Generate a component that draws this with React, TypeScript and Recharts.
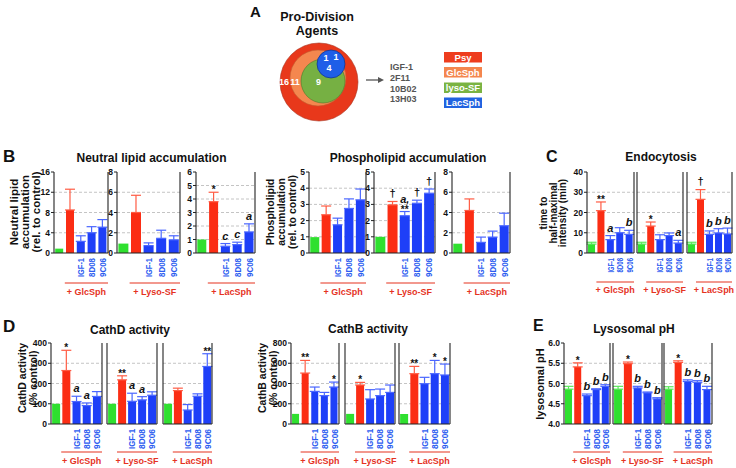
import React from "react";
import { BarChart, Bar, XAxis, YAxis, ErrorBar, LabelList, CartesianGrid } from "recharts";

const FONT = '"Liberation Sans", Arial, Helvetica, sans-serif';
const GREEN = "#2fe02f";
const RED = "#fb2d14";
const BLUE = "#1e3ff8";
const RED_ERR = "#ff5c44";
const BLUE_ERR = "#4a66ff";
const GREEN_ERR = "#5ae85a";
const XBLUE = "#2c5cf0";
const GROUP_RED = "#e5331f";
const AXIS = "#222";

// ---------- categories ----------
const conditions = ["control", "vehicle", "IGF-1", "8D08", "9C06"];
const xTickLabels = ["", "", "IGF-1", "8D08", "9C06"];
const treatments = ["+ GlcSph", "+ Lyso-SF", "+ LacSph"];

// ---------- Panel A ----------
const vennCounts = ["16", "11", "9", "1", "1", "4"];
const agentList = ["IGF-1", "2F11", "10B02", "13H03"];
const legendLabels = ["Psy", "GlcSph", "lyso-SF", "LacSph"];

// ---------- B: neutral lipid accumulation ----------
const neutralGlc = [0.86, 8.5, 2.3, 4.0, 5.1];
const neutralGlcErr = [0.86, 12.6, 3.4, 5.2, 6.6];
const neutralGlcSig = ["", "", "", "", ""];
const neutralLyso = [0.93, 4.0, 0.73, 1.45, 1.3];
const neutralLysoErr = [0.93, 5.7, 1.0, 2.25, 1.7];
const neutralLysoSig = ["", "", "", "", ""];
const neutralLac = [1.0, 3.8, 0.5, 0.62, 1.56];
const neutralLacErr = [1.0, 4.5, 0.7, 0.8, 2.16];
const neutralLacSig = ["", "*", "c", "c", "a"];
const neutralGlcTicks = [0, 4, 8, 12, 16];
const neutralLysoTicks = [0, 2, 4, 6, 8];
const neutralLacTicks = [0, 1, 2, 3, 4, 5, 6];

// ---------- B: phospholipid accumulation ----------
const phosGlc = [0.98, 2.36, 1.74, 2.75, 3.28];
const phosGlcErr = [0.98, 2.9, 2.15, 3.34, 3.95];
const phosGlcSig = ["", "", "", "", ""];
const phosLyso = [1.0, 2.97, 2.3, 3.07, 3.69];
const phosLysoErr = [1.0, 3.18, 2.56, 3.26, 3.95];
const phosLysoSig = ["", "†", "a,|**", "†", "†"];
const phosLac = [0.92, 4.2, 1.05, 1.57, 2.69];
const phosLacErr = [0.92, 5.34, 1.57, 2.16, 3.93];
const phosLacSig = ["", "", "", "", ""];
const phosTicks = [0, 1, 2, 3, 4, 5];
const phosLacTicks = [0, 2, 4, 6, 8];

// ---------- C: endocytosis ----------
const endoGlc = [4.4, 20.9, 6.6, 10.0, 9.2];
const endoGlcErr = [5.3, 25.2, 8.6, 12.5, 11.2];
const endoGlcSig = ["", "**", "a", "", "b"];
const endoLyso = [4.4, 13.3, 6.6, 8.6, 4.9];
const endoLysoErr = [5.3, 15.3, 9.0, 9.9, 6.25];
const endoLysoSig = ["", "*", "", "", "a"];
const endoLac = [4.4, 26.5, 9.2, 9.9, 9.4];
const endoLacErr = [5.3, 31.3, 10.9, 12.0, 12.3];
const endoLacSig = ["", "†", "b", "b", "b"];
const endoTicks = [0, 10, 20, 30, 40];

// ---------- D: CathD activity ----------
const cathDGlc = [100, 264, 111, 91, 136];
const cathDGlcErr = [100, 364, 137, 104, 160];
const cathDGlcSig = ["", "*", "a", "a", ""];
const cathDLyso = [100, 218, 112, 119, 142];
const cathDLysoErr = [100, 238, 152, 135, 159];
const cathDLysoSig = ["", "**", "a", "a", ""];
const cathDLac = [100, 165, 69, 137, 284];
const cathDLacErr = [100, 177, 96, 149, 347];
const cathDLacSig = ["", "", "", "", "**"];
const cathDTicks = [0, 100, 200, 300, 400];

// ---------- D: CathB activity ----------
const cathBGlc = [100, 503, 322, 280, 365];
const cathBGlcErr = [100, 628, 365, 312, 414];
const cathBGlcSig = ["", "**", "", "", "*"];
const cathBLyso = [100, 385, 247, 280, 312];
const cathBLysoErr = [100, 411, 339, 345, 385];
const cathBLysoSig = ["", "*", "", "", ""];
const cathBLac = [100, 497, 398, 497, 484];
const cathBLacErr = [100, 569, 461, 628, 592];
const cathBLacSig = ["", "**", "", "*", "*"];
const cathBTicks = [0, 200, 400, 600, 800];

// ---------- E: lysosomal pH ----------
const phGlc = [4.86, 5.41, 4.7, 4.85, 4.93];
const phGlcErr = [4.93, 5.51, 4.74, 4.87, 4.97];
const phLyso = [4.86, 5.49, 4.89, 4.77, 4.62];
const phLysoErr = [4.93, 5.53, 4.93, 4.79, 4.65];
const phLac = [4.86, 5.52, 5.05, 5.03, 4.85];
const phLacErr = [4.92, 5.56, 5.09, 5.07, 4.93];
const phSig = ["", "*", "b", "b", "b"];
const phTicks = [4, 4.5, 5, 5.5, 6];

type LabelStyle = { labelSize: number; labelLen: number; lineOff: number; textOff: number };
const styleTop: LabelStyle = { labelSize: 9.5, labelLen: 19, lineOff: 30, textOff: 41.5 };
const styleC: LabelStyle = { labelSize: 9, labelLen: 14.5, lineOff: 29, textOff: 40 };
const styleBot: LabelStyle = { labelSize: 9.5, labelLen: 20, lineOff: 28, textOff: 39.5 };

type Sub = {
  vals: number[];
  err: number[];
  sig: string[];
  ticks: number[];
  showTicks: boolean;
  left: number;
  right: number;
  top: number;
  bottom: number;
  group: string;
  st: LabelStyle;
  fmt?: (v: number) => string;
};

const AnnLabel = (p: any) => {
  const { x, y, width, value } = p;
  if (!value || x == null || y == null) return null;
  const lines = String(value).split("|");
  const cx = Number(x) + Number(width) / 2;
  const out: any[] = [];
  let base = Number(y);
  for (let i = lines.length - 1; i >= 0; i--) {
    const ln = lines[i];
    const isStar = ln.indexOf("*") >= 0;
    const isDagger = ln.indexOf("†") >= 0;
    const by = isStar ? base + 1 : isDagger ? base - 4.5 : base - 4;
    out.push(
      <text
        key={i}
        x={cx}
        y={by}
        textAnchor="middle"
        fontFamily={FONT}
        fontWeight={700}
        fontStyle={isStar || isDagger ? "normal" : "italic"}
        fontSize={isStar ? 10 : 11}
        fill="#111"
      >
        {ln}
      </text>
    );
    base = by - (isStar ? 6 : 9);
  }
  return <g>{out}</g>;
};

const makeXTick = (st: LabelStyle) => (p: any) => {
  const { x, y, payload } = p;
  const idx = conditions.indexOf(payload && payload.value);
  const label = xTickLabels[idx];
  if (!label) return <g />;
  return (
    <text
      transform={`translate(${x + st.labelSize * 0.36},${y + 3}) rotate(-90)`}
      textAnchor="end"
      fontFamily={FONT}
      fontWeight={700}
      fontSize={st.labelSize}
      fill={XBLUE}
      textLength={st.labelLen}
      lengthAdjust="spacingAndGlyphs"
    >
      {label}
    </text>
  );
};

const makeGroupLabel = (st: LabelStyle, text: string) => (p: any) => {
  const vb = p.viewBox || {};
  const band = vb.width / conditions.length;
  const x1 = vb.x + band;
  const x2 = vb.x + vb.width;
  const ly = vb.y + st.lineOff;
  return (
    <g>
      <line x1={x1} x2={x2} y1={ly} y2={ly} stroke={GROUP_RED} strokeWidth={1.1} />
      <text
        x={(x1 + x2) / 2}
        y={vb.y + st.textOff}
        textAnchor="middle"
        fontFamily={FONT}
        fontWeight={700}
        fontSize={9}
        fill={GROUP_RED}
      >
        {text}
      </text>
    </g>
  );
};

// map a data value to a pixel row using the axis scale handed to the grid
function axisPixel(props: any, v: number, domain: [number, number]): number {
  const ax = props && props.yAxis;
  const sc = ax && ax.scale;
  if (typeof sc === "function") return sc(v);
  if (sc && typeof sc.map === "function") {
    const r = sc.map(v);
    if (typeof r === "number") return r;
  }
  if (sc && typeof sc.scale === "function") return sc.scale(v);
  const off = props.offset || {};
  return off.top + off.height * (1 - (v - domain[0]) / (domain[1] - domain[0]));
}

function SubChart({ s }: { s: Sub }) {
  const yW = 28;
  const mTop = 10;
  const xH = 50;
  const rW = 6;
  const plotW = s.right - s.left;
  const plotH = s.bottom - s.top;
  const W = yW + plotW + rW;
  const H = mTop + plotH + xH;
  const domain: [number, number] = [s.ticks[0], s.ticks[s.ticks.length - 1]];
  const inner = s.ticks.slice(1, -1);
  const data = conditions.map((c, i) => {
    const v = s.vals[i];
    const e = s.err[i] - v;
    const eb = e > 0 ? [0, e] : null;
    return {
      k: c,
      g: i === 0 ? v : null,
      gE: i === 0 ? eb : null,
      r: i === 1 ? v : null,
      rE: i === 1 ? eb : null,
      b: i >= 2 ? v : null,
      bE: i >= 2 ? eb : null,
      t: s.sig[i] ? Math.max(s.err[i], v) : null,
      ann: s.sig[i],
    };
  });
  const tickStyle = { fontSize: 8.5, fontWeight: 700, fill: "#111", fontFamily: FONT };
  return (
    <div style={{ position: "absolute", left: s.left - yW, top: s.top - mTop }}>
      <BarChart
        width={W}
        height={H}
        data={data}
        margin={{ top: mTop, right: 0, bottom: 0, left: 0 }}
        barCategoryGap="11%"
      >
        <XAxis
          xAxisId="b"
          dataKey="k"
          height={xH}
          interval={0}
          tickLine={false}
          tickSize={0}
          axisLine={{ stroke: AXIS, strokeWidth: 1.1 }}
          tick={makeXTick(s.st)}
          label={makeGroupLabel(s.st, s.group)}
        />
        <XAxis xAxisId="g" dataKey="k" hide />
        <XAxis xAxisId="r" dataKey="k" hide />
        <XAxis xAxisId="t" dataKey="k" hide />
        <YAxis
          yAxisId="L"
          type="number"
          width={yW}
          domain={domain}
          ticks={s.ticks}
          interval={0}
          tickSize={3}
          tickMargin={1}
          axisLine={{ stroke: AXIS, strokeWidth: 1.1 }}
          tickLine={{ stroke: AXIS }}
          tick={s.showTicks ? tickStyle : false}
          tickFormatter={s.fmt}
        />
        <YAxis
          yAxisId="R"
          orientation="right"
          type="number"
          width={rW}
          domain={domain}
          ticks={s.ticks}
          interval={0}
          tickSize={3}
          axisLine={{ stroke: AXIS, strokeWidth: 1.1 }}
          tickLine={{ stroke: AXIS }}
          tick={false}
        />
        <CartesianGrid
          xAxisId="b"
          yAxisId="L"
          vertical={false}
          stroke="#b5b5b5"
          strokeDasharray="3 2"
          strokeWidth={0.8}
          horizontalCoordinatesGenerator={(props: any) =>
            inner.map((v) => axisPixel(props, v, domain))
          }
        />
        <Bar xAxisId="g" yAxisId="L" dataKey="g" fill={GREEN} isAnimationActive={false}>
          <ErrorBar dataKey="gE" direction="y" width={5} stroke={GREEN_ERR} strokeWidth={1.2} />
        </Bar>
        <Bar xAxisId="r" yAxisId="L" dataKey="r" fill={RED} isAnimationActive={false}>
          <ErrorBar dataKey="rE" direction="y" width={5} stroke={RED_ERR} strokeWidth={1.2} />
        </Bar>
        <Bar xAxisId="b" yAxisId="L" dataKey="b" fill={BLUE} isAnimationActive={false}>
          <ErrorBar dataKey="bE" direction="y" width={5} stroke={BLUE_ERR} strokeWidth={1.2} />
        </Bar>
        <Bar xAxisId="t" yAxisId="L" dataKey="t" fill="none" isAnimationActive={false}>
          <LabelList dataKey="ann" content={AnnLabel} />
        </Bar>
      </BarChart>
    </div>
  );
}

const fmt1 = (v: number) => v.toFixed(1);

const R1T = 172;
const R1B = 253;
const R2T = 343;
const R2B = 424;

const subs: Sub[] = [
  // Neutral lipid
  { vals: neutralGlc, err: neutralGlcErr, sig: neutralGlcSig, ticks: neutralGlcTicks, showTicks: true, left: 54, right: 108, top: R1T, bottom: R1B, group: treatments[0], st: styleTop },
  { vals: neutralLyso, err: neutralLysoErr, sig: neutralLysoSig, ticks: neutralLysoTicks, showTicks: true, left: 117, right: 180, top: R1T, bottom: R1B, group: treatments[1], st: styleTop },
  { vals: neutralLac, err: neutralLacErr, sig: neutralLacSig, ticks: neutralLacTicks, showTicks: true, left: 196, right: 255, top: R1T, bottom: R1B, group: treatments[2], st: styleTop },
  // Phospholipid
  { vals: phosGlc, err: phosGlcErr, sig: phosGlcSig, ticks: phosTicks, showTicks: true, left: 309, right: 366, top: R1T, bottom: R1B, group: treatments[0], st: styleTop },
  { vals: phosLyso, err: phosLysoErr, sig: phosLysoSig, ticks: phosTicks, showTicks: true, left: 374, right: 435, top: R1T, bottom: R1B, group: treatments[1], st: styleTop },
  { vals: phosLac, err: phosLacErr, sig: phosLacSig, ticks: phosLacTicks, showTicks: true, left: 452, right: 510, top: R1T, bottom: R1B, group: treatments[2], st: styleTop },
  // Endocytosis
  { vals: endoGlc, err: endoGlcErr, sig: endoGlcSig, ticks: endoTicks, showTicks: true, left: 587, right: 634, top: R1T, bottom: R1B, group: treatments[0], st: styleC },
  { vals: endoLyso, err: endoLysoErr, sig: endoLysoSig, ticks: endoTicks, showTicks: false, left: 637, right: 683, top: R1T, bottom: R1B, group: treatments[1], st: styleC },
  { vals: endoLac, err: endoLacErr, sig: endoLacSig, ticks: endoTicks, showTicks: false, left: 687, right: 732, top: R1T, bottom: R1B, group: treatments[2], st: styleC },
  // CathD
  { vals: cathDGlc, err: cathDGlcErr, sig: cathDGlcSig, ticks: cathDTicks, showTicks: true, left: 51, right: 102, top: R2T, bottom: R2B, group: treatments[0], st: styleBot },
  { vals: cathDLyso, err: cathDLysoErr, sig: cathDLysoSig, ticks: cathDTicks, showTicks: false, left: 107, right: 157, top: R2T, bottom: R2B, group: treatments[1], st: styleBot },
  { vals: cathDLac, err: cathDLacErr, sig: cathDLacSig, ticks: cathDTicks, showTicks: false, left: 163, right: 212, top: R2T, bottom: R2B, group: treatments[2], st: styleBot },
  // CathB
  { vals: cathBGlc, err: cathBGlcErr, sig: cathBGlcSig, ticks: cathBTicks, showTicks: true, left: 291, right: 339, top: R2T, bottom: R2B, group: treatments[0], st: styleBot },
  { vals: cathBLyso, err: cathBLysoErr, sig: cathBLysoSig, ticks: cathBTicks, showTicks: false, left: 345, right: 395, top: R2T, bottom: R2B, group: treatments[1], st: styleBot },
  { vals: cathBLac, err: cathBLacErr, sig: cathBLacSig, ticks: cathBTicks, showTicks: false, left: 399, right: 450, top: R2T, bottom: R2B, group: treatments[2], st: styleBot },
  // pH
  { vals: phGlc, err: phGlcErr, sig: phSig, ticks: phTicks, showTicks: true, left: 564, right: 610, top: R2T, bottom: R2B, group: treatments[0], st: styleBot, fmt: fmt1 },
  { vals: phLyso, err: phLysoErr, sig: phSig, ticks: phTicks, showTicks: false, left: 613, right: 662, top: R2T, bottom: R2B, group: treatments[1], st: styleBot, fmt: fmt1 },
  { vals: phLac, err: phLacErr, sig: phSig, ticks: phTicks, showTicks: false, left: 664, right: 712, top: R2T, bottom: R2B, group: treatments[2], st: styleBot, fmt: fmt1 },
];

const T = (props: any) => <text fontFamily={FONT} fontWeight={700} {...props} />;

const YTitle = ({ x, y, size, children }: any) => (
  <text
    transform={`translate(${x},${y}) rotate(-90)`}
    textAnchor="middle"
    dominantBaseline="central"
    fontFamily={FONT}
    fontWeight={700}
    fontSize={size}
    fill="#111"
  >
    {children}
  </text>
);

function Overlay() {
  const legendColors = ["#ee3d1e", "#f4864e", "#7ab342", "#2163e0"];
  const legendY = [52, 67, 82.5, 97.5];
  const agentY = [67, 78, 89, 99];
  return (
    <svg width={736} height={468} style={{ position: "absolute", left: 0, top: 0 }}>
      {/* Panel A */}
      <T x={250} y={17} fontSize={15} fill="#111">A</T>
      <T x={317} y={21} fontSize={12.5} textAnchor="middle" fill="#111">Pro-Division</T>
      <T x={317} y={35} fontSize={12.5} textAnchor="middle" fill="#111">Agents</T>
      <circle cx={319} cy={82} r={39} fill="#e8381b" stroke="#a8301c" strokeWidth={0.6} />
      <circle cx={318} cy={78} r={28} fill="#f4874f" stroke="#c06030" strokeWidth={0.6} />
      <circle cx={323} cy={81} r={22} fill="#76b043" stroke="#4a7a2a" strokeWidth={0.6} />
      <circle cx={331} cy={64} r={14} fill="#1f5ee8" stroke="#10308a" strokeWidth={0.7} />
      <T x={284} y={84.5} fontSize={9} textAnchor="middle" fill="#fff">{vennCounts[0]}</T>
      <T x={295} y={84.5} fontSize={9} textAnchor="middle" fill="#fff">{vennCounts[1]}</T>
      <T x={318.5} y={84.5} fontSize={9} textAnchor="middle" fill="#fff">{vennCounts[2]}</T>
      <T x={326} y={60.5} fontSize={9} textAnchor="middle" fill="#fff">{vennCounts[3]}</T>
      <T x={336} y={59.5} fontSize={9} textAnchor="middle" fill="#fff">{vennCounts[4]}</T>
      <T x={329} y={70.5} fontSize={9} textAnchor="middle" fill="#fff">{vennCounts[5]}</T>
      <line x1={366} x2={380} y1={80} y2={80} stroke="#555" strokeWidth={1.3} />
      <polygon points="384,80 378,77 378,83" fill="#555" />
      {agentList.map((a, i) => (
        <T key={a} x={390} y={agentY[i] + 3.3} fontSize={9} fill="#555">{a}</T>
      ))}
      {legendLabels.map((l, i) => (
        <g key={l}>
          <rect x={444} y={legendY[i]} width={38} height={10.5} fill={legendColors[i]} />
          <T x={463} y={legendY[i] + 8.6} fontSize={9.5} textAnchor="middle" fill="#fff">{l}</T>
        </g>
      ))}

      {/* Panel letters */}
      <T x={3} y={162} fontSize={17} fill="#111">B</T>
      <T x={546} y={162} fontSize={16} fill="#111">C</T>
      <T x={3} y={332} fontSize={17} fill="#111">D</T>
      <T x={533} y={331} fontSize={16} fill="#111">E</T>

      {/* Titles */}
      <T x={151.5} y={162} fontSize={12} textAnchor="middle" fill="#111">Neutral lipid accumulation</T>
      <T x={408} y={162} fontSize={12} textAnchor="middle" fill="#111">Phospholipid accumulation</T>
      <T x={661} y={161} fontSize={12} textAnchor="middle" fill="#111">Endocytosis</T>
      <T x={130} y={334} fontSize={12} textAnchor="middle" fill="#111">CathD activity</T>
      <T x={368} y={333} fontSize={12} textAnchor="middle" fill="#111">CathB activity</T>
      <T x={634} y={333} fontSize={12} textAnchor="middle" fill="#111">Lysosomal pH</T>

      {/* Y titles */}
      <YTitle x={14} y={212} size={11.5}>Neutral lipid</YTitle>
      <YTitle x={25} y={212} size={11.5}>accumulation</YTitle>
      <YTitle x={35.5} y={212} size={11.5}>(rel. to control)</YTitle>
      <YTitle x={270} y={212} size={10.5}>Phospholipid</YTitle>
      <YTitle x={281} y={212} size={10.5}>accumulation</YTitle>
      <YTitle x={292} y={212} size={10.5}>(rel. to control)</YTitle>
      <YTitle x={543} y={213} size={10}>time to</YTitle>
      <YTitle x={553} y={213} size={10}>half-maximal</YTitle>
      <YTitle x={562.5} y={213} size={10}>intensity (min)</YTitle>
      <YTitle x={22} y={378} size={10.5}>CathD activity</YTitle>
      <YTitle x={32.5} y={378} size={10.5}>(% control)</YTitle>
      <YTitle x={262} y={378} size={10.5}>CathB activity</YTitle>
      <YTitle x={273} y={378} size={10.5}>(% control)</YTitle>
      <YTitle x={540} y={384} size={11}>lysosomal pH</YTitle>
    </svg>
  );
}

export default function App() {
  return (
    <div
      style={{
        position: "absolute",
        left: 0,
        top: 0,
        width: 736,
        height: 468,
        background: "#fff",
        fontFamily: FONT,
        overflow: "hidden",
      }}
    >
      <Overlay />
      {subs.map((s, i) => (
        <SubChart key={i} s={s} />
      ))}
    </div>
  );
}
